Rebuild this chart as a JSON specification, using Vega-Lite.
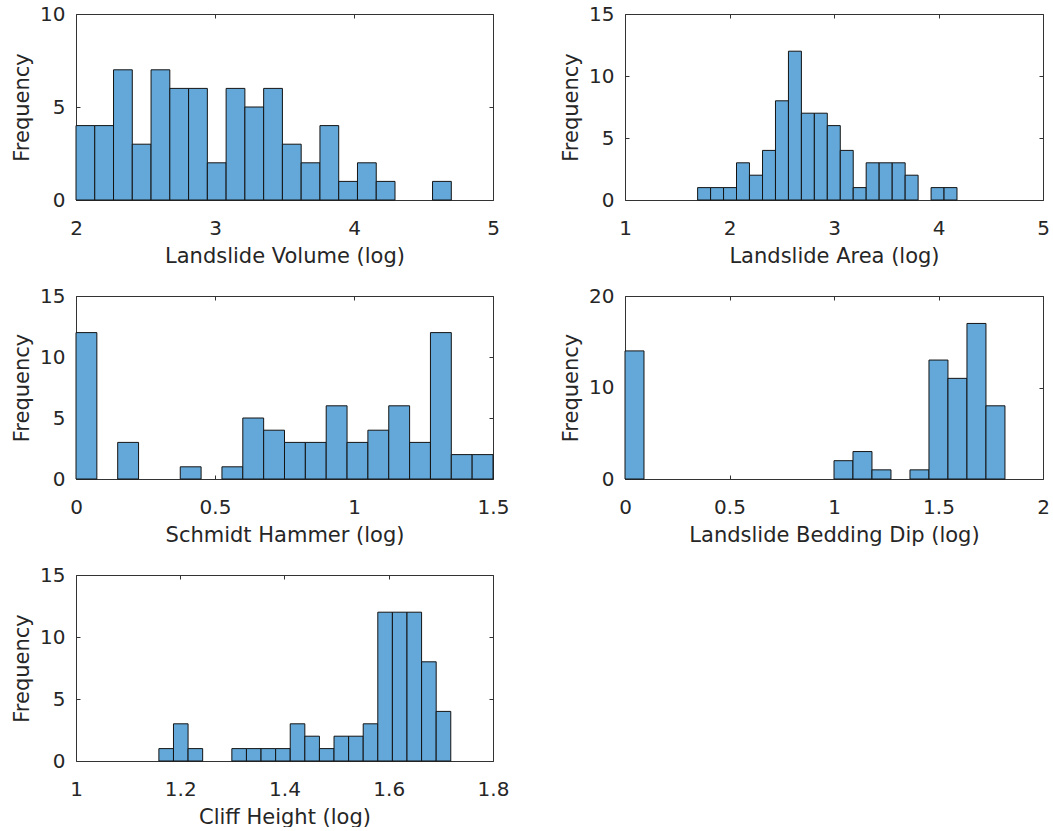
{
  "$schema": "https://vega.github.io/schema/vega-lite/v6.json",
  "padding": {"left": 11, "top": 4, "right": 0, "bottom": 0},
  "background": "white",
  "datasets": {
    "vol": [
      {"lo": 2.000, "hi": 2.135, "n": 4}, {"lo": 2.135, "hi": 2.270, "n": 4}, {"lo": 2.270, "hi": 2.405, "n": 7},
      {"lo": 2.405, "hi": 2.540, "n": 3}, {"lo": 2.540, "hi": 2.675, "n": 7}, {"lo": 2.675, "hi": 2.810, "n": 6},
      {"lo": 2.810, "hi": 2.945, "n": 6}, {"lo": 2.945, "hi": 3.080, "n": 2}, {"lo": 3.080, "hi": 3.215, "n": 6},
      {"lo": 3.215, "hi": 3.350, "n": 5}, {"lo": 3.350, "hi": 3.485, "n": 6}, {"lo": 3.485, "hi": 3.620, "n": 3},
      {"lo": 3.620, "hi": 3.755, "n": 2}, {"lo": 3.755, "hi": 3.890, "n": 4}, {"lo": 3.890, "hi": 4.025, "n": 1},
      {"lo": 4.025, "hi": 4.160, "n": 2}, {"lo": 4.160, "hi": 4.295, "n": 1}, {"lo": 4.565, "hi": 4.700, "n": 1}
    ],
    "area": [
      {"lo": 1.695, "hi": 1.819, "n": 1}, {"lo": 1.819, "hi": 1.943, "n": 1}, {"lo": 1.943, "hi": 2.067, "n": 1},
      {"lo": 2.067, "hi": 2.191, "n": 3}, {"lo": 2.191, "hi": 2.316, "n": 2}, {"lo": 2.316, "hi": 2.440, "n": 4},
      {"lo": 2.440, "hi": 2.564, "n": 8}, {"lo": 2.564, "hi": 2.688, "n": 12}, {"lo": 2.688, "hi": 2.812, "n": 7},
      {"lo": 2.812, "hi": 2.936, "n": 7}, {"lo": 2.936, "hi": 3.060, "n": 6}, {"lo": 3.060, "hi": 3.184, "n": 4},
      {"lo": 3.184, "hi": 3.308, "n": 1}, {"lo": 3.308, "hi": 3.432, "n": 3}, {"lo": 3.432, "hi": 3.557, "n": 3},
      {"lo": 3.557, "hi": 3.681, "n": 3}, {"lo": 3.681, "hi": 3.805, "n": 2}, {"lo": 3.929, "hi": 4.053, "n": 1},
      {"lo": 4.053, "hi": 4.177, "n": 1}
    ],
    "schmidt": [
      {"lo": 0.000, "hi": 0.075, "n": 12}, {"lo": 0.150, "hi": 0.225, "n": 3}, {"lo": 0.375, "hi": 0.450, "n": 1},
      {"lo": 0.525, "hi": 0.600, "n": 1}, {"lo": 0.600, "hi": 0.675, "n": 5}, {"lo": 0.675, "hi": 0.750, "n": 4},
      {"lo": 0.750, "hi": 0.825, "n": 3}, {"lo": 0.825, "hi": 0.900, "n": 3}, {"lo": 0.900, "hi": 0.975, "n": 6},
      {"lo": 0.975, "hi": 1.050, "n": 3}, {"lo": 1.050, "hi": 1.125, "n": 4}, {"lo": 1.125, "hi": 1.200, "n": 6},
      {"lo": 1.200, "hi": 1.275, "n": 3}, {"lo": 1.275, "hi": 1.350, "n": 12}, {"lo": 1.350, "hi": 1.425, "n": 2},
      {"lo": 1.425, "hi": 1.500, "n": 2}
    ],
    "dip": [
      {"lo": 0.0000, "hi": 0.0909, "n": 14}, {"lo": 1.0000, "hi": 1.0908, "n": 2}, {"lo": 1.0908, "hi": 1.1817, "n": 3},
      {"lo": 1.1817, "hi": 1.2726, "n": 1}, {"lo": 1.3635, "hi": 1.4544, "n": 1}, {"lo": 1.4544, "hi": 1.5453, "n": 13},
      {"lo": 1.5453, "hi": 1.6362, "n": 11}, {"lo": 1.6362, "hi": 1.7271, "n": 17}, {"lo": 1.7271, "hi": 1.8180, "n": 8}
    ],
    "cliff": [
      {"lo": 1.159, "hi": 1.187, "n": 1}, {"lo": 1.187, "hi": 1.215, "n": 3}, {"lo": 1.215, "hi": 1.243, "n": 1},
      {"lo": 1.299, "hi": 1.327, "n": 1}, {"lo": 1.327, "hi": 1.355, "n": 1}, {"lo": 1.355, "hi": 1.383, "n": 1},
      {"lo": 1.383, "hi": 1.411, "n": 1}, {"lo": 1.411, "hi": 1.439, "n": 3}, {"lo": 1.439, "hi": 1.467, "n": 2},
      {"lo": 1.467, "hi": 1.495, "n": 1}, {"lo": 1.495, "hi": 1.523, "n": 2}, {"lo": 1.523, "hi": 1.551, "n": 2},
      {"lo": 1.551, "hi": 1.579, "n": 3}, {"lo": 1.579, "hi": 1.607, "n": 12}, {"lo": 1.607, "hi": 1.635, "n": 12},
      {"lo": 1.635, "hi": 1.663, "n": 12}, {"lo": 1.663, "hi": 1.691, "n": 8}, {"lo": 1.691, "hi": 1.719, "n": 4}
    ]
  },
  "config": {
    "font": "DejaVu Sans",
    "view": {"stroke": null},
    "bar": {"fill": "#63A8D8", "stroke": "#141414", "strokeWidth": 1},
    "axis": {
      "labelFont": "DejaVu Sans", "labelFontSize": 20, "labelColor": "#262626",
      "titleFont": "DejaVu Sans", "titleFontSize": 21, "titleFontWeight": "normal", "titleColor": "#262626",
      "grid": false, "domainColor": "#333333", "domainWidth": 1, "tickColor": "#333333", "tickWidth": 1,
      "tickSize": -4, "labelFlush": false, "labelOverlap": false, "format": "~f"
    },
    "axisX": {"labelPadding": 22, "titleY": 62, "titleBaseline": "alphabetic"},
    "axisY": {"labelPadding": 15, "titleX": -48, "titleBaseline": "alphabetic"}
  },
  "columns": 2,
  "spacing": {"row": 96, "column": 132},
  "bounds": "flush",
  "concat": [
    {
      "width": 417, "height": 186,
      "data": {"name": "vol"},
      "layer": [
        {"mark": {"type": "bar"},
         "encoding": {
           "x": {"field": "lo", "type": "quantitative", "scale": {"domain": [2, 5], "nice": false, "zero": false}, "axis": {"values": [2, 3, 4, 5], "title": "Landslide Volume (log)"}},
           "x2": {"field": "hi"},
           "y": {"field": "n", "type": "quantitative", "scale": {"domain": [0, 10], "nice": false}, "axis": {"values": [0, 5, 10], "title": "Frequency"}},
           "y2": {"datum": 0}
         }},
        {"mark": {"type": "bar", "opacity": 0},
         "encoding": {
           "x": {"field": "lo", "type": "quantitative", "scale": {"domain": [2, 5], "nice": false, "zero": false}, "axis": {"orient": "top", "values": [2, 3, 4, 5], "labels": false, "title": null}},
           "x2": {"field": "hi"},
           "y": {"field": "n", "type": "quantitative", "scale": {"domain": [0, 10], "nice": false}, "axis": {"orient": "right", "values": [0, 5, 10], "labels": false, "title": null}},
           "y2": {"datum": 0}
         }}
      ],
      "resolve": {"axis": {"x": "independent", "y": "independent"}}
    },
    {
      "width": 418, "height": 186,
      "data": {"name": "area"},
      "layer": [
        {"mark": {"type": "bar"},
         "encoding": {
           "x": {"field": "lo", "type": "quantitative", "scale": {"domain": [1, 5], "nice": false, "zero": false}, "axis": {"values": [1, 2, 3, 4, 5], "title": "Landslide Area (log)"}},
           "x2": {"field": "hi"},
           "y": {"field": "n", "type": "quantitative", "scale": {"domain": [0, 15], "nice": false}, "axis": {"values": [0, 5, 10, 15], "title": "Frequency"}},
           "y2": {"datum": 0}
         }},
        {"mark": {"type": "bar", "opacity": 0},
         "encoding": {
           "x": {"field": "lo", "type": "quantitative", "scale": {"domain": [1, 5], "nice": false, "zero": false}, "axis": {"orient": "top", "values": [1, 2, 3, 4, 5], "labels": false, "title": null}},
           "x2": {"field": "hi"},
           "y": {"field": "n", "type": "quantitative", "scale": {"domain": [0, 15], "nice": false}, "axis": {"orient": "right", "values": [0, 5, 10, 15], "labels": false, "title": null}},
           "y2": {"datum": 0}
         }}
      ],
      "resolve": {"axis": {"x": "independent", "y": "independent"}}
    },
    {
      "width": 417, "height": 183,
      "data": {"name": "schmidt"},
      "layer": [
        {"mark": {"type": "bar"},
         "encoding": {
           "x": {"field": "lo", "type": "quantitative", "scale": {"domain": [0, 1.5], "nice": false, "zero": false}, "axis": {"values": [0, 0.5, 1, 1.5], "title": "Schmidt Hammer (log)"}},
           "x2": {"field": "hi"},
           "y": {"field": "n", "type": "quantitative", "scale": {"domain": [0, 15], "nice": false}, "axis": {"values": [0, 5, 10, 15], "title": "Frequency"}},
           "y2": {"datum": 0}
         }},
        {"mark": {"type": "bar", "opacity": 0},
         "encoding": {
           "x": {"field": "lo", "type": "quantitative", "scale": {"domain": [0, 1.5], "nice": false, "zero": false}, "axis": {"orient": "top", "values": [0, 0.5, 1, 1.5], "labels": false, "title": null}},
           "x2": {"field": "hi"},
           "y": {"field": "n", "type": "quantitative", "scale": {"domain": [0, 15], "nice": false}, "axis": {"orient": "right", "values": [0, 5, 10, 15], "labels": false, "title": null}},
           "y2": {"datum": 0}
         }}
      ],
      "resolve": {"axis": {"x": "independent", "y": "independent"}}
    },
    {
      "width": 418, "height": 183,
      "data": {"name": "dip"},
      "layer": [
        {"mark": {"type": "bar"},
         "encoding": {
           "x": {"field": "lo", "type": "quantitative", "scale": {"domain": [0, 2], "nice": false, "zero": false}, "axis": {"values": [0, 0.5, 1, 1.5, 2], "title": "Landslide Bedding Dip (log)"}},
           "x2": {"field": "hi"},
           "y": {"field": "n", "type": "quantitative", "scale": {"domain": [0, 20], "nice": false}, "axis": {"values": [0, 10, 20], "title": "Frequency"}},
           "y2": {"datum": 0}
         }},
        {"mark": {"type": "bar", "opacity": 0},
         "encoding": {
           "x": {"field": "lo", "type": "quantitative", "scale": {"domain": [0, 2], "nice": false, "zero": false}, "axis": {"orient": "top", "values": [0, 0.5, 1, 1.5, 2], "labels": false, "title": null}},
           "x2": {"field": "hi"},
           "y": {"field": "n", "type": "quantitative", "scale": {"domain": [0, 20], "nice": false}, "axis": {"orient": "right", "values": [0, 10, 20], "labels": false, "title": null}},
           "y2": {"datum": 0}
         }}
      ],
      "resolve": {"axis": {"x": "independent", "y": "independent"}}
    },
    {
      "width": 417, "height": 186,
      "data": {"name": "cliff"},
      "layer": [
        {"mark": {"type": "bar"},
         "encoding": {
           "x": {"field": "lo", "type": "quantitative", "scale": {"domain": [1, 1.8], "nice": false, "zero": false}, "axis": {"values": [1, 1.2, 1.4, 1.6, 1.8], "title": "Cliff Height (log)"}},
           "x2": {"field": "hi"},
           "y": {"field": "n", "type": "quantitative", "scale": {"domain": [0, 15], "nice": false}, "axis": {"values": [0, 5, 10, 15], "title": "Frequency"}},
           "y2": {"datum": 0}
         }},
        {"mark": {"type": "bar", "opacity": 0},
         "encoding": {
           "x": {"field": "lo", "type": "quantitative", "scale": {"domain": [1, 1.8], "nice": false, "zero": false}, "axis": {"orient": "top", "values": [1, 1.2, 1.4, 1.6, 1.8], "labels": false, "title": null}},
           "x2": {"field": "hi"},
           "y": {"field": "n", "type": "quantitative", "scale": {"domain": [0, 15], "nice": false}, "axis": {"orient": "right", "values": [0, 5, 10, 15], "labels": false, "title": null}},
           "y2": {"datum": 0}
         }}
      ],
      "resolve": {"axis": {"x": "independent", "y": "independent"}}
    }
  ]
}
